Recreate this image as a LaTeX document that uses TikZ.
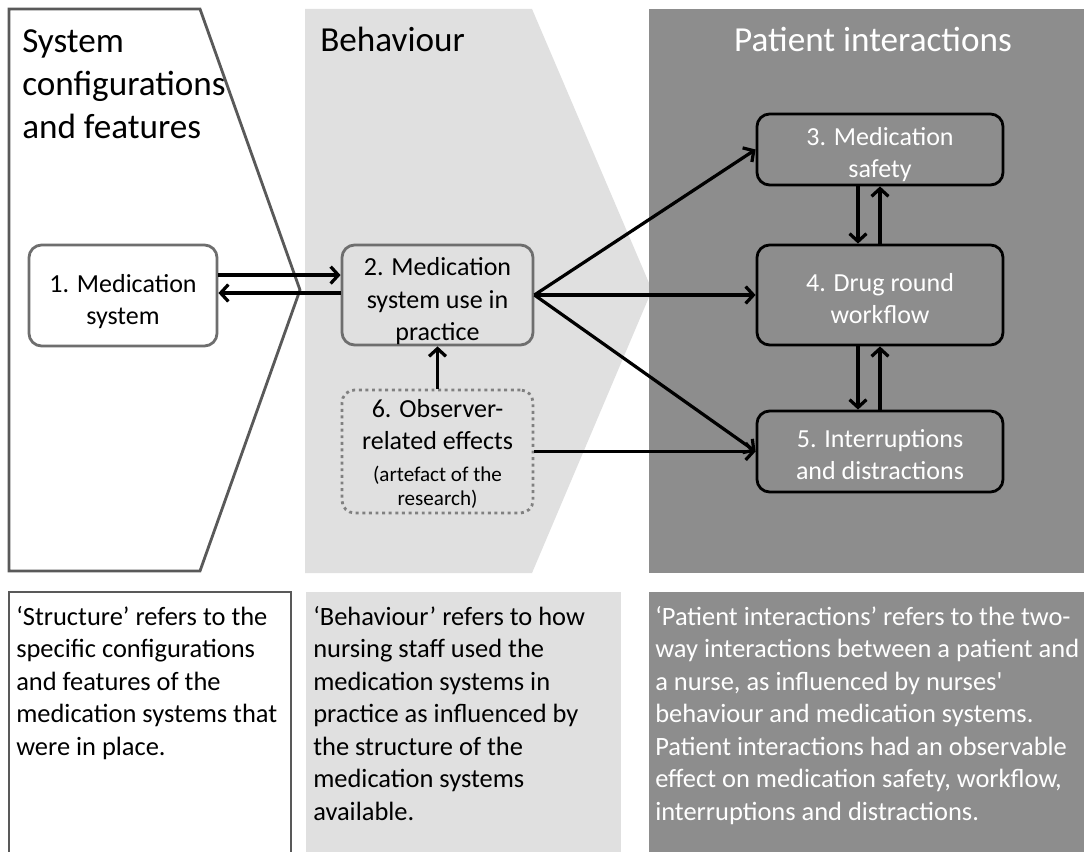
\documentclass[tikz,border=0pt]{standalone}
\usepackage{fontspec}
\setmainfont{Carlito}
\usepackage{tikz}
\usetikzlibrary{arrows.meta, positioning, calc}
\definecolor{panellight}{RGB}{224,224,224}
\definecolor{paneldark}{RGB}{141,141,141}
\definecolor{edgegrey}{RGB}{89,89,89}
\definecolor{boxgrey}{RGB}{110,110,110}
\definecolor{dotgrey}{RGB}{128,128,128}
\newcommand{\smallnote}{\fontsize{15}{15.6}\selectfont}
\newcommand{\topstrut}[1][21.5pt]{\rule{0pt}{#1}}
\tikzset{
  stagebox/.style={rectangle, align=center, inner sep=0pt,
    rounded corners=9pt, line width=2pt,
    font=\fontsize{18.5}{22.8}\selectfont},
  plainbox/.style={stagebox, draw=boxgrey, fill=white,
    minimum width=4.7cm, minimum height=2.525cm},
  lightbox/.style={stagebox, draw=boxgrey, fill=panellight,
    minimum width=4.775cm, minimum height=2.5cm},
  dotbox/.style={stagebox, draw=dotgrey, fill=panellight,
    dash pattern=on 2.1pt off 2.6pt,
    minimum width=4.775cm, minimum height=3.075cm},
  darkbox/.style={stagebox, draw=black, fill=paneldark, text=white,
    minimum width=6.15cm},
  title/.style={align=left, inner sep=0pt,
    font=\fontsize{25}{30.6}\selectfont},
  note/.style={align=left, inner sep=0pt,
    font=\fontsize{18.8}{23.1}\selectfont},
  arrow/.style={-{Straight Barb[length=5.5pt, width=12pt]}, line width=2.3pt, black}
}

\begin{document}
\begin{tikzpicture}[x=0.025cm, y=-0.025cm]
  \clip (0,0) rectangle (1084,852);
  \fill[white] (0,0) rectangle (1084,852);

  % Structure panel
  \draw[edgegrey, line width=2pt, fill=white]
    (9,9) -- (200,9) -- (300,290) -- (200,571) -- (9,571) -- cycle;
  % Behaviour panel
  \fill[panellight]
    (305,9) -- (532,9) -- (652,290) -- (532,573) -- (305,573) -- cycle;
  % Patient interactions panel
  \fill[paneldark] (649,9) rectangle (1090,573);

  % Explanation boxes
  \draw[edgegrey, line width=2pt, fill=white] (9,592) rectangle (291,870);
  \fill[panellight] (306,592) rectangle (621,870);
  \fill[paneldark] (649,592) rectangle (1090,870);

  % Titles
  \node[title, anchor=north west] (ttlsys) at (22,29)
    {System\\configurations\\and features};
  \node[title, anchor=base west] (ttlbeh) at (320,52) {Behaviour};
  \node[title, anchor=base, text=white] (ttlpat) at (873,52) {Patient interactions};

  % Stages
  \node[plainbox] (sys) at (123,295.5) {\topstrut 1. Medication\\system};
  \node[lightbox] (use) at (437.5,295) {\topstrut 2. Medication\\system use in\\practice};
  \node[dotbox] (obs) at (437.5,451.5)
    {\topstrut[16pt]6. Observer-\\related effects\\\smallnote (artefact of the\\[-5.5pt]\smallnote research)};
  \node[darkbox, minimum height=1.775cm] (safe) at (880,149.5) {\topstrut[20pt]3. Medication\\safety};
  \node[darkbox, minimum height=2.5cm] (flow) at (880,295) {\topstrut[17.5pt]4. Drug round\\workflow};
  \node[darkbox, minimum height=2.025cm] (intr) at (880,451.5) {\topstrut[17.5pt]5. Interruptions\\and distractions};

  % Connectors
  \draw[arrow] ([yshift=0.51cm]sys.east) -- ([yshift=0.51cm]sys.east -| use.west);
  \draw[arrow] ([yshift=0.05cm]use.west) -- ([yshift=0.05cm]use.west -| sys.east);
  \draw[arrow] (obs) -- (use);
  \draw[arrow] (use.east) -- (safe.west);
  \draw[arrow] (use.east) -- (flow.west);
  \draw[arrow] (use.east) -- (intr.west);
  \draw[arrow] (obs.east) -- (intr.west);
  \draw[arrow] ([xshift=-0.55cm]safe.south) -- ([xshift=-0.55cm]flow.north);
  \draw[arrow] (flow.north) -- (safe.south);
  \draw[arrow] ([xshift=-0.55cm]flow.south) -- ([xshift=-0.55cm]intr.north);
  \draw[arrow] (intr.north) -- (flow.south);

  % Explanations
  \node[note, anchor=north west] (notesys) at (16,606)
    {‘Structure’ refers to the\\specific configurations\\and features of the\\medication systems that\\were in place.};
  \node[note, anchor=north west] (notebeh) at (313,606)
    {‘Behaviour’ refers to how\\nursing staff used the\\medication systems in\\practice as influenced by\\the structure of the\\medication systems\\available.};
  \node[note, anchor=north west, text=white] (notepat) at (655,606)
    {‘Patient interactions’ refers to the two-\\way interactions between a patient and\\a nurse, as influenced by nurses\textquotesingle\\behaviour and medication systems.\\Patient interactions had an observable\\effect on medication safety, workflow,\\interruptions and distractions.};
\end{tikzpicture}
\end{document}
